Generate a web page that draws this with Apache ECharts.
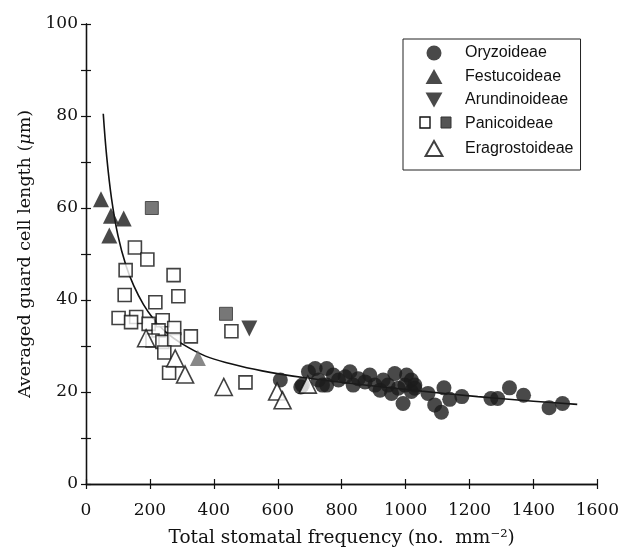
<!DOCTYPE html>
<html>
<head>
<meta charset="utf-8">
<script src="https://cdn.jsdelivr.net/npm/echarts@6/dist/echarts.min.js"></script>
<style>html,body{margin:0;padding:0;background:#fff}#c{width:622px;height:553px}</style>
</head>
<body>
<div id="c"></div>
<script>
// ---- data ----
const xTicks = [0, 200, 400, 600, 800, 1000, 1200, 1400, 1600];
const yTicks = [0, 20, 40, 60, 80, 100];

const oryzoideae = [
  [608,22.6],[672,21.1],[677,21.5],[696,24.4],[717,25.1],[727,22.6],[740,21.5],[753,25.1],[753,21.5],
  [774,23.7],[790,22.6],[811,23.3],[826,24.4],[836,21.5],[852,22.9],[873,22.2],[888,23.7],[904,21.5],
  [920,20.4],[930,22.6],[945,21.5],[956,19.7],[966,24.0],[977,20.8],[992,17.5],[998,21.5],[1003,23.7],
  [1018,20.1],[1018,22.6],[1029,21.5],[1029,20.8],[1070,19.7],[1091,17.2],[1112,15.6],[1120,20.9],
  [1138,18.4],[1176,19.0],[1267,18.6],[1288,18.6],[1325,20.9],[1369,19.3],[1449,16.6],[1491,17.5]
];
const festucoideae = [[47,61.9],[78,58.3],[118,57.7],[73,54.0]];
const festucoideaeGrey = [[350,27.4]];
const arundinoideae = [[511,33.8]];
const panicoideaeOpen = [
  [153,51.4],[192,48.8],[124,46.5],[274,45.4],[121,41.1],[289,40.8],[217,39.5],[102,36.1],
  [157,36.3],[141,35.2],[196,34.8],[240,35.6],[276,33.9],[328,32.1],[227,33.4],[208,31.2],
  [239,30.9],[276,31.4],[245,28.6],[260,24.2],[455,33.2],[499,22.1]
];
const panicoideaeFilled = [[206,60.0],[438,37.0]];
const eragrostoideae = [[188,31.7],[279,27.3],[310,23.8],[431,21.1],[598,20.1],[615,18.2],[694,21.6]];
const fitCurve = [
  [54,80.5],[65,71],[80,62],[100,54],[125,47.5],[150,43],[180,39],[210,36],[250,33],[300,30.5],
  [374,27.8],[450,26.2],[551,24.6],[686,23.1],[850,21.7],[1050,20.2],[1226,19.0],[1400,18.0],[1537,17.3]
];
const names = ['Oryzoideae','Festucoideae','Arundinoideae','Panicoideae','Eragrostoideae'];

const serif = 'DejaVu Serif';
const dark = '#1c1c1c';
const chart = echarts.init(document.getElementById('c'));

const axisCommon = {
  axisLine: {show: true, lineStyle: {color: '#111', width: 1.3}},
  axisTick: {show: true, inside: true, length: 5, lineStyle: {color: '#111', width: 1.2}},
  splitLine: {show: false}
};

chart.setOption({
  animation: false,
  backgroundColor: '#fff',
  grid: {left: 86, right: 22, top: 24, bottom: 67},
  legend: {
    orient: 'vertical', left: 403, top: 39,
    padding: [6, 7, 13, 4], itemGap: 7.5,
    itemWidth: 52, itemHeight: 15,
    borderColor: '#222', borderWidth: 1,
    textStyle: {fontFamily: 'Liberation Sans', fontSize: 16, color: '#111', lineHeight: 16},
    data: [
      {name: names[0], icon: 'circle'},
      {name: names[1], icon: 'path://M9,0L18,16L0,16Z'},
      {name: names[2], icon: 'path://M0,0L18,0L9,16Z'},
      {name: names[3], icon: 'rect', itemStyle: {opacity: 0}},
      {name: names[4], icon: 'path://M9,0L18,16L0,16Z'}
    ]
  },
  xAxis: [
    Object.assign({}, axisCommon, {
      type: 'value', min: 0, max: 1600, interval: 200,
      axisLabel: {fontFamily: serif, fontSize: 17, color: '#111', margin: 18,
        formatter: v => xTicks.includes(v) ? String(v) : ''},
      name: 'Total stomatal frequency (no.  mm\u207B\u00B2)', nameLocation: 'middle', nameGap: 45,
      nameTextStyle: {fontFamily: serif, fontSize: 18.5, color: '#111'}
    }),
    Object.assign({}, axisCommon, {
      type: 'value', min: 0, max: 1600, interval: 200, position: 'top',
      axisLabel: {show: false}
    })
  ],
  yAxis: [
    Object.assign({}, axisCommon, {
      type: 'value', min: 0, max: 100, interval: 10,
      axisLabel: {fontFamily: serif, fontSize: 17, color: '#111', margin: 8,
        formatter: v => yTicks.includes(v) ? String(v) : ''},
      name: 'Averaged guard cell length ({i|\u03BC}m)', nameLocation: 'middle', nameGap: 50,
      nameTextStyle: {fontFamily: serif, fontSize: 17.5, color: '#111',
        rich: {i: {fontFamily: serif, fontSize: 17.5, fontStyle: 'italic', color: '#111'}}}
    }),
    Object.assign({}, axisCommon, {
      type: 'value', min: 0, max: 100, interval: 10, position: 'right',
      axisLabel: {show: false}
    })
  ],
  graphic: [
    {type: 'rect', shape: {x: 420, y: 117, width: 10, height: 11}, style: {fill: '#fff', stroke: '#111', lineWidth: 1.4}, z: 100},
    {type: 'rect', shape: {x: 441, y: 117, width: 10, height: 11}, style: {fill: '#555', stroke: '#333', lineWidth: 1}, z: 100}
  ],
  series: [
    {type: 'line', name: 'fit', data: fitCurve, smooth: 0.4, showSymbol: false,
      symbol: 'none', lineStyle: {color: '#111', width: 1.6}, z: 1, legendHoverLink: false},
    {type: 'scatter', name: names[0], data: oryzoideae, symbol: 'circle', symbolSize: 15,
      itemStyle: {color: dark}, z: 3},
    {type: 'scatter', name: names[1], data: festucoideae.concat(festucoideaeGrey.map(p => ({value: p, itemStyle: {color: '#6a6a6a'}}))),
      symbol: 'triangle', symbolSize: 16, itemStyle: {color: dark}, z: 4},
    {type: 'scatter', name: names[2], data: arundinoideae, symbol: 'triangle', symbolRotate: 180, symbolSize: 16,
      itemStyle: {color: dark}, z: 4},
    {type: 'scatter', name: names[3], data: panicoideaeOpen, symbol: 'rect', symbolSize: 13,
      itemStyle: {color: '#fff', borderColor: '#111', borderWidth: 1.6}, z: 5},
    {type: 'scatter', name: 'Panicoideae (shaded)', data: panicoideaeFilled, symbol: 'rect', symbolSize: 13,
      itemStyle: {color: '#555', borderColor: '#333', borderWidth: 1}, z: 5},
    {type: 'scatter', name: names[4], data: eragrostoideae, symbol: 'triangle', symbolSize: 17,
      itemStyle: {color: '#fff', borderColor: '#111', borderWidth: 1.6}, z: 5}
  ]
});
</script>
</body>
</html>
